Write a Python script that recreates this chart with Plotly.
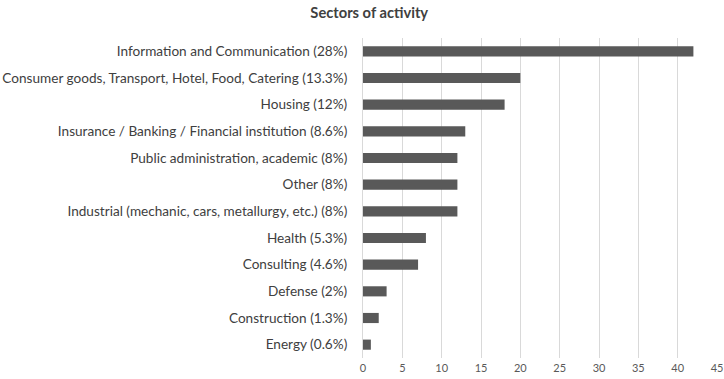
import plotly.graph_objects as go

categories = [
    "Information and Communication (28%)",
    "Consumer goods, Transport, Hotel, Food, Catering (13.3%)",
    "Housing (12%)",
    "Insurance / Banking / Financial institution (8.6%)",
    "Public administration, academic (8%)",
    "Other (8%)",
    "Industrial (mechanic, cars, metallurgy, etc.) (8%)",
    "Health (5.3%)",
    "Consulting (4.6%)",
    "Defense (2%)",
    "Construction (1.3%)",
    "Energy (0.6%)",
]
values = [42, 20, 18, 13, 12, 12, 12, 8, 7, 3, 2, 1]
x_ticks = [0, 5, 10, 15, 20, 25, 30, 35, 40, 45]

fig = go.Figure(go.Bar(
    x=values,
    y=categories,
    orientation="h",
    marker=dict(color="#595959", line=dict(width=0)),
))

fig.update_layout(
    width=724, height=379,
    margin=dict(l=363, r=7, t=38, b=21),
    paper_bgcolor="white", plot_bgcolor="white",
    bargap=0.62,
    showlegend=False,
    font=dict(family="Lato, Open Sans, sans-serif", color="#404040"),
    title=dict(text="<b>Sectors of activity</b>", x=0.51, xanchor="center",
               y=0.965, yanchor="middle", font=dict(size=14.7, color="#404040")),
)
fig.update_xaxes(
    range=[0, 45], tickvals=x_ticks, showgrid=True, gridcolor="#d9d9d9",
    gridwidth=1, zeroline=False, showline=False, tickfont=dict(size=11, color="#595959"),
    ticklabelstandoff=2, automargin=False,
)
fig.update_yaxes(
    autorange="reversed", showline=True, linecolor="#d9d9d9", linewidth=1,
    tickfont=dict(size=13.6, color="#404040"), ticklabelstandoff=12, automargin=False,
)

fig.write_html("out.html", config={"displayModeBar": False},
               post_script="document.body.style.margin='0';")
